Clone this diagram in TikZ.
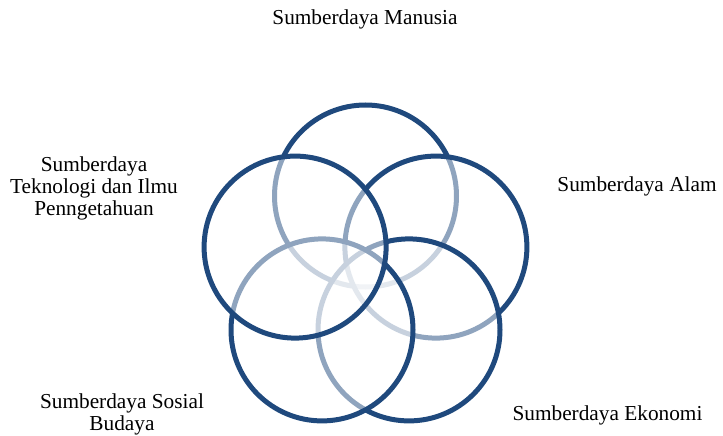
\documentclass[tikz,border=0pt]{standalone}
\usepackage{fontspec}
\setmainfont{Liberation Serif}
\usetikzlibrary{calc}
\definecolor{dkblue}{HTML}{1F497D}
\begin{document}
\begin{tikzpicture}[x=1pt,y=-1pt,
  ring/.style={circle,draw=dkblue,line width=5pt,fill=white,fill opacity=0.5,minimum size=182pt,inner sep=0pt},
  lbl/.style={anchor=base,align=center,inner sep=0pt,font=\fontsize{21.3}{22}\selectfont}]
\useasboundingbox (0,0) rectangle (723,436);
\coordinate (ctr) at (365.5,270);
\node[ring] (c1) at ($(ctr)+(0,-74)$) {};
\node[ring] (c2) at ($(ctr)+(70.4,-22.9)$) {};
\node[ring] (c3) at ($(ctr)+(43.5,59.9)$) {};
\node[ring] (c4) at ($(ctr)+(-43.5,59.9)$) {};
\node[ring] (c5) at ($(ctr)+(-70.4,-22.9)$) {};
\node[lbl] (t1) at (365,25) {Sumberdaya Manusia};
\node[lbl] (t2) at (637,191.5) {Sumberdaya Alam};
\node[lbl] (t3) at (607.5,420) {Sumberdaya Ekonomi};
\node[lbl] (t4) at (122,430) {Sumberdaya Sosial\\Budaya};
\node[lbl] (t5) at (94,215) {Sumberdaya\\Teknologi dan Ilmu\\Penngetahuan};
\end{tikzpicture}
\end{document}
